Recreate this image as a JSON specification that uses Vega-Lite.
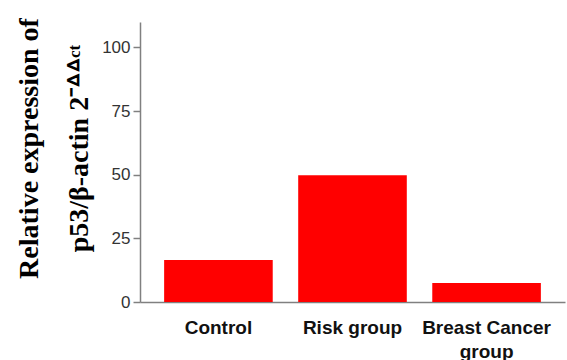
{
  "$schema": "https://vega.github.io/schema/vega-lite/v6.json",
  "autosize": "none",
  "padding": {"left": 140, "top": 22, "right": 2, "bottom": 58},
  "width": 425,
  "height": 280,
  "background": "white",
  "data": {"values": [
    {"group": "Control", "value": 16.5},
    {"group": "Risk group", "value": 49.8},
    {"group": "Breast Cancer group", "value": 7.5}
  ]},
  "mark": {"type": "bar", "color": "#ff0000"},
  "encoding": {
    "x": {
      "field": "group", "type": "nominal", "sort": null,
      "scale": {"paddingInner": 0.19, "paddingOuter": 0.18},
      "axis": {
        "title": null, "labelAngle": 0, "ticks": false,
        "domainColor": "#808080", "domainWidth": 1.5,
        "labelFont": "Liberation Sans", "labelFontWeight": "bold", "labelFontSize": 19,
        "labelColor": "#111111", "labelPadding": 16, "labelLineHeight": 24,
        "labelExpr": "datum.label == 'Breast Cancer group' ? ['Breast Cancer', 'group'] : datum.label"
      }
    },
    "y": {
      "field": "value", "type": "quantitative",
      "scale": {"domain": [0, 110], "nice": false},
      "axis": {
        "values": [0, 25, 50, 75, 100], "grid": false,
        "domainColor": "#808080", "domainWidth": 1.5,
        "tickColor": "#808080", "tickWidth": 1.5, "tickSize": 7,
        "labelFont": "Liberation Sans", "labelFontSize": 17, "labelColor": "#333333", "labelPadding": 3,
        "title": ["Relative expression of", "p53/β-actin 2⁻ᐞᐞᶜᵗ"],
        "titleFont": "Liberation Serif", "titleFontWeight": "bold", "titleFontSize": 28,
        "titleColor": "#000000", "titleLineHeight": 50,
        "titleAngle": -90, "titleAlign": "center", "titleBaseline": "middle",
        "titleX": -111, "titleY": 126
      }
    }
  },
  "config": {"view": {"stroke": null}}
}
